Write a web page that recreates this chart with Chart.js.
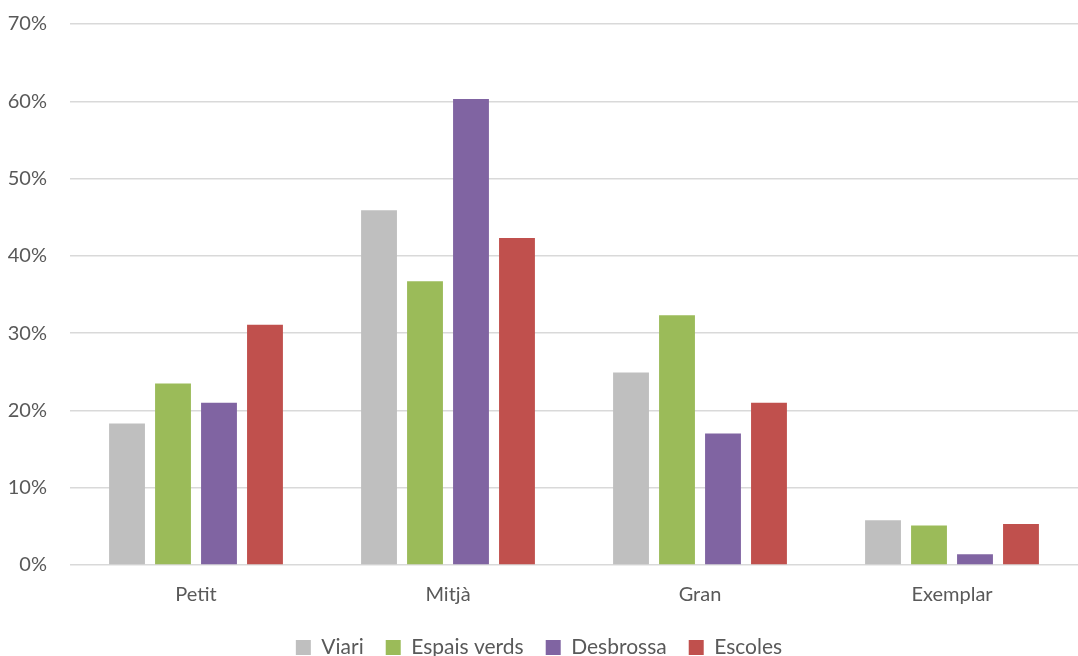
<!DOCTYPE html>
<html>
<head>
<meta charset="utf-8">
<script src="https://cdn.jsdelivr.net/npm/chart.js@4"></script>
<style>
  html, body { margin: 0; padding: 0; background: #fff; overflow: hidden; }
  #wrap { position: relative; width: 1078px; height: 668px; }
</style>
</head>
<body>
<div id="wrap"><canvas id="barChart"></canvas></div>
<script>
// size classes and shares per service (percent)
const categories = ["Petit", "Mitjà", "Gran", "Exemplar"];
const viari = [18.3, 45.9, 24.9, 5.8];
const espaisVerds = [23.5, 36.7, 32.3, 5.1];
const desbrossa = [21.0, 60.3, 17.0, 1.4];
const escoles = [31.1, 42.3, 21.0, 5.3];
const yTicks = [0, 10, 20, 30, 40, 50, 60, 70];

const textColor = "#595959";
const fontFamily = "Lato, 'Open Sans', sans-serif";

var ctx = document.getElementById("barChart").getContext("2d");

var barChart = new Chart(ctx, {
  type: "bar",
  data: {
    labels: categories,
    datasets: [
      { label: "Viari", data: viari, backgroundColor: "#bfbfbf" },
      { label: "Espais verds", data: espaisVerds, backgroundColor: "#9bbb59" },
      { label: "Desbrossa", data: desbrossa, backgroundColor: "#8064a2" },
      { label: "Escoles", data: escoles, backgroundColor: "#c0504d" },
    ],
  },
  options: {
    responsive: true,
    maintainAspectRatio: false,
    animation: false,
    datasets: {
      bar: { barPercentage: 0.78, categoryPercentage: 0.73 },
    },
    layout: { padding: { top: 24, right: 0, bottom: 0, left: 0 } },
    scales: {
      x: {
        grid: { display: false },
        border: { display: false },
        ticks: { color: textColor, font: { family: fontFamily, size: 20 }, padding: 10 },
        afterFit: (scale) => { scale.height = 50; },
      },
      y: {
        min: 0,
        max: 70,
        afterBuildTicks: (scale) => { scale.ticks = yTicks.map((v) => ({ value: v })); },
        // invisible tick marks keep the labels clear of the plot
        grid: { color: "#d9d9d9", lineWidth: 1.5, tickLength: 20, tickColor: "rgba(0,0,0,0)" },
        border: { display: false },
        ticks: {
          color: textColor,
          font: { family: fontFamily, size: 20 },
          padding: 3,
          callback: (v) => v + "%",
        },
        afterFit: (scale) => { scale.width = 70; },
      },
    },
    plugins: {
      tooltip: { enabled: false },
      legend: {
        position: "bottom",
        labels: {
          color: textColor,
          font: { family: fontFamily, size: 21 },
          boxWidth: 15,
          boxHeight: 15,
          padding: 22,
        },
      },
    },
  },
});
</script>
</body>
</html>
